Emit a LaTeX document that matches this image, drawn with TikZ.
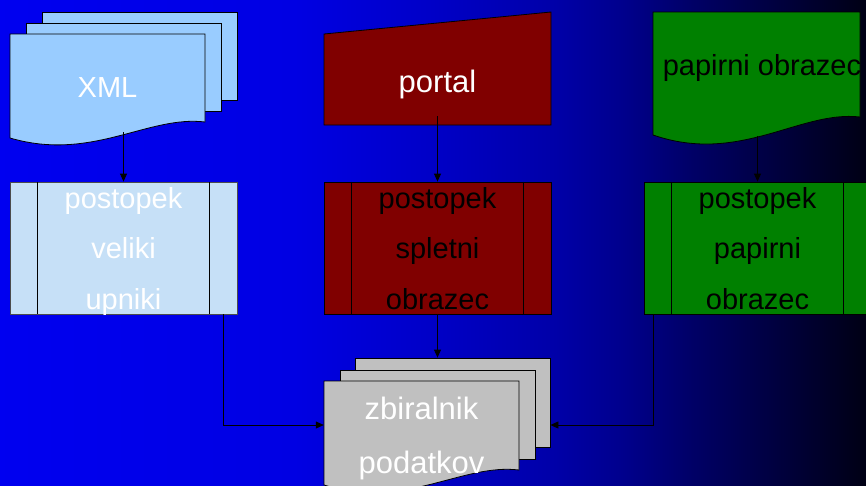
\documentclass[tikz,border=0pt]{standalone}
\usepackage{fontspec}
\setmainfont{Liberation Sans}
\usetikzlibrary{arrows.meta}

\definecolor{xmlblue}{HTML}{99CCFF}
\definecolor{cloudblue}{HTML}{C6E0F7}
\definecolor{portalred}{HTML}{800000}
\definecolor{formgreen}{HTML}{008000}
\definecolor{storegrey}{HTML}{C0C0C0}

\pgfdeclarehorizontalshading{slidebg}{100bp}{rgb(0bp)=(0,0,0.94); rgb(25bp)=(0,0,0.94); rgb(42bp)=(0,0,0.89); rgb(50bp)=(0,0,0.78); rgb(57bp)=(0,0,0.66); rgb(61bp)=(0,0,0.55); rgb(65bp)=(0,0,0.4); rgb(75bp)=(0,0,0.08); rgb(100bp)=(0,0,0.08)}

\begin{document}
\begin{tikzpicture}[x=1pt,y=-1pt,
    sheet/.style={draw=black,line width=0.8pt},
    procbox/.style={draw=black,line width=0.8pt,minimum width=227pt,minimum height=132pt,inner sep=0pt,text depth=0pt,align=center,font=\fontsize{29}{50.5}\selectfont},
    lbl/.style={inner sep=0pt,align=center,font=\fontsize{29}{50.5}\selectfont},
    biglbl/.style={inner sep=0pt,align=center,font=\fontsize{31}{54}\selectfont},
    link/.style={line width=0.8pt,-{Triangle[length=8pt,width=7pt]}}
    ]

    % background:
    \useasboundingbox (0,0) rectangle (866,485);
    \shade[shading=slidebg] (0,0) rectangle (866,485);

    % xml stack:
    \node (xml3) at (139.5,56) [sheet,fill=xmlblue,minimum width=195pt,minimum height=88pt] {};
    \node (xml2) at (123.5,67) [sheet,fill=xmlblue,minimum width=195pt,minimum height=88pt] {};
    \filldraw [sheet,fill=xmlblue] (10,34) -- (205,34) -- (205,122) .. controls (148,115) and (92,162) .. (10,138) -- cycle;
    \node (xml) at (107.5,88) [lbl,text=white] {XML};
    \coordinate (xmlout) at (123.5,132);

    % portal:
    \filldraw [sheet,fill=portalred] (324,34) -- (551,12) -- (551,125) -- (324,125) -- cycle;
    \node (portal) at (437.5,84) [biglbl,text=white] {portal};
    \coordinate (portalout) at (437.5,116);

    % paper form:
    \filldraw [sheet,fill=formgreen] (653,12) -- (860,12) -- (860,117) .. controls (800,110) and (740,165) .. (653,135) -- cycle;
    \node (papirni) at (762,68) [lbl] {papirni obrazec};
    \coordinate (papirniout) at (757.5,136);

    % processes:
    \node (procl) at (123.5,248) [procbox,fill=cloudblue,draw=black!70,text=white] {postopek\\veliki\\upniki};
    \node (procm) at (437.5,248) [procbox,fill=portalred] {postopek\\spletni\\obrazec};
    \node (procr) at (757.5,248) [procbox,fill=formgreen] {postopek\\papirni\\obrazec};
    \foreach \p in {procl,procm,procr} {
        \draw [line width=0.8pt] ([xshift=28pt]\p.north west) -- ([xshift=28pt]\p.south west);
        \draw [line width=0.8pt] ([xshift=-28pt]\p.north east) -- ([xshift=-28pt]\p.south east);
    }

    % data store stack:
    \node (zbir3) at (452.5,402.5) [sheet,fill=storegrey,minimum width=195pt,minimum height=89pt] {};
    \node (zbir2) at (437.5,414.5) [sheet,fill=storegrey,minimum width=195pt,minimum height=89pt] {};
    \filldraw [sheet,fill=storegrey] (324,381) -- (519,381) -- (519,470) .. controls (462,463) and (406,510) .. (324,485) -- cycle;
    \node (zbir) at (421.5,425) [minimum width=195pt,minimum height=88pt,inner sep=0pt] {};
    \node (zbirtxt) at (421.5,438) [biglbl,text=white] {zbiralnik\\podatkov};

    % connect nodes:
    \draw [link] (xmlout) -- (procl.north);
    \draw [link] (portalout) -- (procm.north);
    \draw [link] (papirniout) -- (procr.north);
    \draw [link] ([xshift=-14pt]procl.south east) |- (zbir.west);
    \draw [link] (procm.south) -- (procm.south |- zbir3.north);
    \draw [link] ([xshift=10pt]procr.south west) |- (zbir.east -| zbir3.east);

\end{tikzpicture}
\end{document}
